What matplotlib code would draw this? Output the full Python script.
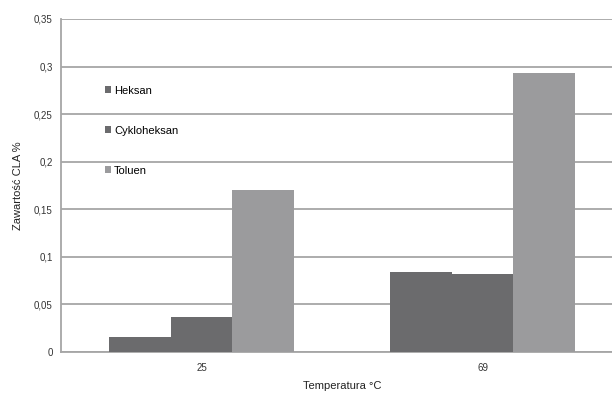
import matplotlib
matplotlib.use("Agg")
from matplotlib import pyplot as plt
from matplotlib.ticker import FuncFormatter, MultipleLocator
import numpy as np

## Data
categories = ["25", "69"]
series = ["Heksan", "Cykloheksan", "Toluen"]
heksan = [0.016, 0.084]
cykloheksan = [0.037, 0.082]
toluen = [0.170, 0.293]
colours = ["#6b6b6d", "#6b6b6d", "#9b9b9d"]

## Plot set up
plt.rcParams["font.family"] = ["Liberation Sans", "DejaVu Sans"]
fsize = 7

fig = plt.figure(figsize=(6.12, 3.94), dpi=100)
ax = fig.add_axes([61 / 612, 42 / 394, 562 / 612, 333 / 394])

x = np.arange(len(categories))
width = 0.22
for k, (name, vals) in enumerate(zip(series, [heksan, cykloheksan, toluen])):
    ax.bar(x + (k - 1) * width, vals, width, color=colours[k], label=name, zorder=3)

ax.set_xlim(-0.5, 1.5)
ax.set_ylim(0, 0.35)
ax.yaxis.set_major_locator(MultipleLocator(0.05))
ax.yaxis.set_major_formatter(
    FuncFormatter(lambda v, p: "0" if abs(v) < 1e-9 else ("%.2f" % v).rstrip("0").replace(".", ","))
)
ax.set_xticks(x)
ax.set_xticklabels(categories)
ax.tick_params(axis="both", length=0, labelsize=fsize, colors="#333333", pad=6)
ax.tick_params(axis="x", pad=8)

ax.grid(axis="y", color="#a6a6a6", linewidth=1.3, zorder=0)
for s in ["top", "right"]:
    ax.spines[s].set_visible(False)
ax.spines["left"].set_color("#a6a6a6")
ax.spines["left"].set_linewidth(1.3)
ax.spines["bottom"].set_color("#a6a6a6")
ax.spines["bottom"].set_linewidth(1.3)

ax.set_ylabel("Zawartość CLA %", fontsize=8, color="#222222", labelpad=8)
ax.set_xlabel("Temperatura °C", fontsize=8, color="#222222", labelpad=6)

ax.legend(
    loc="upper left",
    bbox_to_anchor=(0.06, 0.83),
    frameon=False,
    fontsize=fsize + 1,
    handlelength=0.55,
    handleheight=0.55,
    handletextpad=0.3,
    labelspacing=2.7,
)

fig.savefig("out.png", dpi=100)
